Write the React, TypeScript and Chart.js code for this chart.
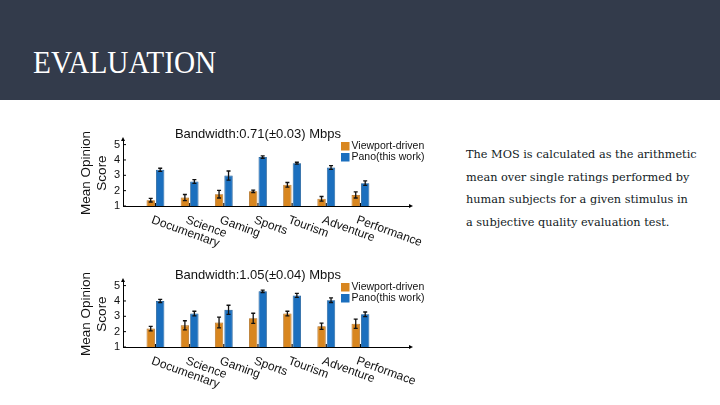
import React, { useEffect, useRef } from "react";
import { Chart, registerables } from "chart.js";

Chart.register(...registerables);

// ---- data ----
const categoriesTop = ["Documentary", "Science", "Gaming", "Sports", "Tourism", "Adventure", "Performance"];
const categoriesBottom = ["Documentary", "Science", "Gaming", "Sports", "Tourism", "Adventure", "Performace"];
const seriesLabels = ["Viewport-driven", "Pano(this work)"];
const yTickValues = [1, 2, 3, 4, 5];

const titleTop = "Bandwidth:0.71(\u00b10.03) Mbps";
const viewportTop = [1.38, 1.55, 1.77, 1.96, 2.38, 1.47, 1.72];
const viewportTopErr = [0.12, 0.2, 0.25, 0.08, 0.15, 0.15, 0.2];
const panoTop = [3.36, 2.6, 2.98, 4.19, 3.79, 3.51, 2.49];
const panoTopErr = [0.1, 0.12, 0.3, 0.08, 0.06, 0.12, 0.15];

const titleBottom = "Bandwidth:1.05(\u00b10.04) Mbps";
const viewportBottom = [2.2, 2.41, 2.6, 2.87, 3.18, 2.35, 2.51];
const viewportBottomErr = [0.15, 0.3, 0.35, 0.33, 0.15, 0.2, 0.3];
const panoBottom = [4.0, 3.18, 3.42, 4.63, 4.36, 4.05, 3.13];
const panoBottomErr = [0.1, 0.15, 0.3, 0.08, 0.13, 0.15, 0.15];

const ORANGE = "#d8861f";
const ORANGE_EDGE = "#a9620f";
const BLUE = "#1b6fbe";
const BLUE_EDGE = "#12528f";
const FONT = "'Liberation Sans', Arial, sans-serif";

type Props = {
  title: string;
  categories: string[];
  a: number[];
  aErr: number[];
  b: number[];
  bErr: number[];
  top: number;
};

function MosChart({ title, categories, a, aErr, b, bErr, top }: Props) {
  const ref = useRef<HTMLCanvasElement | null>(null);
  useEffect(() => {
    if (!ref.current) return;
    const errs = [aErr, bErr];
    const colors = [ORANGE, BLUE];
    const overlay = {
      id: "overlay",
      afterDraw(chart: any) {
        const { ctx, chartArea } = chart;
        const xs = chart.scales.x;
        const ys = chart.scales.y;
        ctx.save();
        // error bars
        ctx.strokeStyle = "#111";
        ctx.lineWidth = 1.3;
        [0, 1].forEach((d) => {
          const meta = chart.getDatasetMeta(d);
          const vals = chart.data.datasets[d].data as any[];
          meta.data.forEach((bar: any, i: number) => {
            const v = vals[i].y;
            const e = errs[d][i];
            const y1 = ys.getPixelForValue(v - e);
            const y2 = ys.getPixelForValue(v + e);
            ctx.beginPath();
            ctx.moveTo(bar.x, y1);
            ctx.lineTo(bar.x, y2);
            ctx.moveTo(bar.x - 2, y1);
            ctx.lineTo(bar.x + 2, y1);
            ctx.moveTo(bar.x - 2, y2);
            ctx.lineTo(bar.x + 2, y2);
            ctx.stroke();
          });
        });
        // inward y ticks
        ctx.lineWidth = 1;
        ctx.strokeStyle = "#000";
        yTickValues.forEach((v) => {
          const y = ys.getPixelForValue(v);
          ctx.beginPath();
          ctx.moveTo(chartArea.left, y);
          ctx.lineTo(chartArea.left + 3, y);
          ctx.stroke();
        });
        // inward x ticks
        categories.forEach((_, i) => {
          const x = xs.getPixelForValue(i + 1);
          ctx.beginPath();
          ctx.moveTo(x, chartArea.bottom);
          ctx.lineTo(x, chartArea.bottom - 3);
          ctx.stroke();
        });
        // arrows
        ctx.fillStyle = "#000";
        ctx.beginPath();
        ctx.moveTo(chartArea.right + 3, chartArea.bottom);
        ctx.lineTo(chartArea.right - 1, chartArea.bottom - 2);
        ctx.lineTo(chartArea.right - 1, chartArea.bottom + 2);
        ctx.closePath();
        ctx.fill();
        ctx.beginPath();
        ctx.moveTo(chartArea.left, chartArea.top - 3);
        ctx.lineTo(chartArea.left - 2, chartArea.top + 1);
        ctx.lineTo(chartArea.left + 2, chartArea.top + 1);
        ctx.closePath();
        ctx.fill();
        // title
        ctx.fillStyle = "#111";
        ctx.font = `13px ${FONT}`;
        ctx.textAlign = "center";
        ctx.textBaseline = "alphabetic";
        ctx.fillText(title, chartArea.left + 135, chartArea.top - 2);
        // legend
        const lx = chartArea.right - 69;
        ctx.font = `10.5px ${FONT}`;
        ctx.textAlign = "left";
        ctx.textBaseline = "middle";
        seriesLabels.forEach((lab, d) => {
          const by = chartArea.top + 2 + d * 11;
          ctx.fillStyle = colors[d];
          ctx.fillRect(lx, by, 8.5, 8.5);
          ctx.fillStyle = "#111";
          ctx.fillText(lab, lx + 10.5, by + 4.5);
        });
        // rotated category labels
        ctx.font = `12px ${FONT}`;
        ctx.textBaseline = "top";
        categories.forEach((lab, i) => {
          const x = xs.getPixelForValue(i + 1);
          ctx.save();
          ctx.translate(x - 1.5, chartArea.bottom + 8);
          ctx.rotate((20 * Math.PI) / 180);
          ctx.fillText(lab, 0, 0);
          ctx.restore();
        });
        ctx.restore();
      },
    };

    const chart = new Chart(ref.current, {
      type: "bar",
      data: {
        datasets: [
          {
            label: seriesLabels[0],
            data: a.map((v, i) => ({ x: i + 1, y: v })),
            backgroundColor: ORANGE,
            borderColor: ORANGE_EDGE,
            borderWidth: 0.8,
          },
          {
            label: seriesLabels[1],
            data: b.map((v, i) => ({ x: i + 1, y: v })),
            backgroundColor: BLUE,
            borderColor: BLUE_EDGE,
            borderWidth: 0.8,
          },
        ],
      },
      options: {
        animation: false,
        responsive: false,
        maintainAspectRatio: false,
        categoryPercentage: 0.555,
        barPercentage: 0.88,
        layout: { padding: { top: 18, right: 25, left: 0, bottom: 0 } },
        plugins: {
          legend: { display: false },
          title: { display: false },
          tooltip: { enabled: false },
        },
        scales: {
          x: {
            type: "linear",
            min: 0.05,
            max: 8.45,
            offset: false,
            bounds: "data",
            grace: 0,
            afterBuildTicks: (s: any) => {
              s.ticks = categories.map((_, i) => ({ value: i + 1 }));
            },
            grid: { display: false, drawTicks: false, offset: false },
            border: { display: true, color: "#000", width: 1 },
            ticks: { display: false },
            afterFit: (s: any) => {
              s.height = 44;
            },
          },
          y: {
            type: "linear",
            min: 1,
            max: 5.3,
            grid: { display: false, drawTicks: false },
            border: { display: true, color: "#000", width: 1 },
            afterBuildTicks: (s: any) => {
              s.ticks = yTickValues.map((v) => ({ value: v }));
            },
            ticks: {
              color: "#111",
              padding: 3,
              font: { family: FONT, size: 11 },
              callback: (v: any) => String(v),
            },
            title: {
              display: true,
              text: ["Mean Opinion", "Score"],
              color: "#111",
              font: { family: FONT, size: 13.5, lineHeight: 1.2 },
              padding: { top: 3, bottom: 0 },
            },
            afterFit: (s: any) => {
              s.width = 48;
            },
          },
        },
      } as any,
      plugins: [overlay],
    });
    return () => chart.destroy();
  }, []);
  return (
    <canvas
      ref={ref}
      width={360}
      height={128}
      style={{ position: "absolute", left: 75, top, width: 360, height: 128 }}
    />
  );
}

export default function App() {
  return (
    <div
      style={{
        position: "fixed",
        left: 0,
        top: 0,
        width: 720,
        height: 405,
        background: "#ffffff",
        overflow: "hidden",
      }}
    >
      <div
        style={{
          position: "absolute",
          left: 0,
          top: 0,
          width: 720,
          height: 100,
          background: "#333b4b",
        }}
      />
      <div
        style={{
          position: "absolute",
          left: 33,
          top: 46,
          fontFamily: "'Liberation Serif', serif",
          fontSize: 32,
          lineHeight: "32px",
          color: "#ffffff",
          transform: "scaleX(0.915)",
          transformOrigin: "left top",
          whiteSpace: "nowrap",
        }}
      >
        EVALUATION
      </div>
      <MosChart
        title={titleTop}
        categories={categoriesTop}
        a={viewportTop}
        aErr={viewportTopErr}
        b={panoTop}
        bErr={panoTopErr}
        top={122}
      />
      <MosChart
        title={titleBottom}
        categories={categoriesBottom}
        a={viewportBottom}
        aErr={viewportBottomErr}
        b={panoBottom}
        bErr={panoBottomErr}
        top={263}
      />
      <div
        style={{
          position: "absolute",
          left: 466,
          top: 144,
          fontFamily: "'DejaVu Serif', serif",
          fontSize: 11.3,
          lineHeight: "22.5px",
          color: "#111a24",
          whiteSpace: "nowrap",
        }}
      >
        The MOS is calculated as the arithmetic
        <br />
        mean over single ratings performed by
        <br />
        human subjects for a given stimulus in
        <br />
        a subjective quality evaluation test.
      </div>
    </div>
  );
}
